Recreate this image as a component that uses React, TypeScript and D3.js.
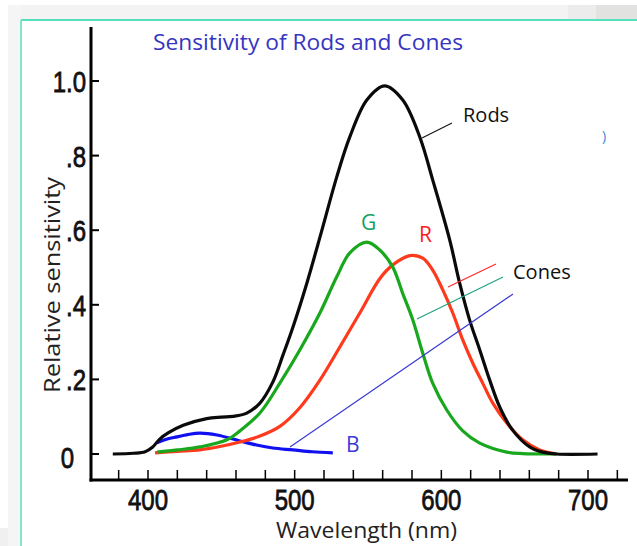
import React from "react";
import * as d3 from "d3";

const W = 637;
const H = 546;

// wavelength (nm), relative sensitivity
const rodsNm = [376, 390, 398, 403, 408, 414, 424, 440, 450, 458, 467, 476, 485, 492, 498.8, 508.3, 518.2, 528.7, 537.6, 549.2, 561.4, 573.7, 585.3, 594.1, 605.7, 612.5, 619.3, 626.2, 633, 639.8, 648.6, 660.2, 669, 678.6, 706.5];
const rodsVal = [0.0, 0.002, 0.006, 0.018, 0.04, 0.057, 0.077, 0.095, 0.099, 0.101, 0.109, 0.135, 0.192, 0.265, 0.34, 0.458, 0.595, 0.743, 0.85, 0.949, 0.987, 0.949, 0.85, 0.735, 0.574, 0.458, 0.359, 0.279, 0.198, 0.126, 0.064, 0.019, 0.005, 0.0, 0.0];

const greenNm = [406.1, 420, 435.4, 453.8, 462.7, 476.3, 489.9, 503.5, 517.2, 528.7, 537.6, 549.2, 558, 566.9, 573.7, 580.5, 587.3, 594.1, 603.7, 614.6, 626.2, 644.6, 655.5, 678.6];
const greenVal = [0.005, 0.011, 0.019, 0.038, 0.062, 0.11, 0.19, 0.279, 0.378, 0.475, 0.539, 0.568, 0.547, 0.501, 0.43, 0.36, 0.271, 0.19, 0.118, 0.062, 0.029, 0.005, 0.001, 0.0];

const redNm = [404.8, 420, 435.4, 449, 462.7, 476.3, 489.9, 503.5, 517.2, 530.8, 544.4, 558, 566.9, 578.5, 587.3, 594.1, 601, 607.8, 614.6, 621.4, 628.2, 635, 644.6, 655.5, 667, 678.6];
const redVal = [0.003, 0.007, 0.011, 0.02, 0.032, 0.048, 0.074, 0.124, 0.198, 0.287, 0.378, 0.47, 0.507, 0.532, 0.525, 0.493, 0.44, 0.378, 0.306, 0.244, 0.19, 0.137, 0.083, 0.038, 0.011, 0.0];

const blueNm = [406.1, 412, 419.8, 427, 435.4, 447, 462.7, 474, 485.1, 498.8, 512, 526];
const blueVal = [0.03, 0.039, 0.046, 0.052, 0.056, 0.051, 0.035, 0.024, 0.016, 0.011, 0.006, 0.003];

const xTickValues = [380, 400, 420, 440, 460, 480, 500, 520, 540, 560, 580, 600, 620, 640, 660, 680, 700, 720];
const xTickLabels = ["400", "500", "600", "700"];
const yTickValues = [0, 0.2, 0.4, 0.6, 0.8, 1.0];
const yTickLabels = ["0", ".2", ".4", ".6", ".8", "1.0"];

const titleText = "Sensitivity of Rods and Cones";
const xLabel = "Wavelength (nm)";
const yLabel = "Relative sensitivity";

export default function App() {
  const x = d3.scaleLinear().domain([400, 700]).range([148, 588]);
  const y = d3.scaleLinear().domain([0, 1]).range([454, 81]);

  const line = d3
    .line<[number, number]>()
    .x((d) => x(d[0]))
    .y((d) => y(d[1]))
    .curve(d3.curveCatmullRom.alpha(0.5));

  const zip = (a: number[], b: number[]) => a.map((v, i) => [v, b[i]] as [number, number]);

  const tickFont = "'Liberation Sans', Arial, sans-serif";
  const textFont = "'Open Sans', 'Noto Sans', sans-serif";
  const sx = 0.8;

  return (
    <div style={{ position: "fixed", left: 0, top: 0, width: W, height: H }}>
      <svg width={W} height={H} style={{ display: "block", background: "#fff" }}>
        {/* window chrome */}
        <rect x={8} y={5} width={W - 8} height={15} fill="#f3f3f3" />
        <rect x={568} y={5} width={28} height={15} fill="#ececec" />
        <rect x={596} y={5} width={41} height={15} fill="#e2e2e0" />
        <rect x={8} y={5} width={13} height={H - 5} fill="#f5f5f5" />
        <rect x={0} y={528} width={8} height={18} fill="#f0f0f0" />
        <line x1={21} y1={20} x2={W} y2={20} stroke="#55e0bd" strokeWidth={2} />
        <line x1={21} y1={20} x2={21} y2={H} stroke="#7fe6cc" strokeWidth={2} />

        {/* title */}
        <text x={153} y={50} fill="#3535c0" fontFamily={textFont} fontSize={21} textLength={310} lengthAdjust="spacingAndGlyphs">
          {titleText}
        </text>

        {/* axes */}
        <line x1={91} y1={27} x2={91} y2={481.5} stroke="#000" strokeWidth={3} />
        <line x1={89.5} y1={480} x2={628} y2={480} stroke="#000" strokeWidth={3} />
        {yTickValues.map((v, i) => (
          <g key={"yt" + i}>
            <line x1={91} x2={99} y1={y(v)} y2={y(v)} stroke="#000" strokeWidth={2} />
            <text
              transform={`translate(${v === 0 ? 74 : 86},${y(v) + (v === 0 ? 14 : 11)}) scale(${sx},1)`}
              textAnchor="end"
              fontFamily={tickFont}
              fontSize={30}
              fill="#111"
              stroke="#111"
              strokeWidth={0.8}
            >
              {yTickLabels[i]}
            </text>
          </g>
        ))}
        {xTickValues.map((v, i) => (
          <line key={"xt" + i} x1={x(v)} x2={x(v)} y1={470} y2={480} stroke="#000" strokeWidth={1.5} />
        ))}
        {xTickLabels.map((t, i) => (
          <text
            key={"xl" + i}
            transform={`translate(${x(+t)},510) scale(${sx},1)`}
            textAnchor="middle"
            fontFamily={tickFont}
            fontSize={30}
            fill="#111"
            stroke="#111"
            strokeWidth={0.8}
          >
            {t}
          </text>
        ))}

        {/* axis titles */}
        <text x={276} y={538} fontFamily={textFont} fontSize={21} fill="#222" textLength={181} lengthAdjust="spacingAndGlyphs">
          {xLabel}
        </text>
        <text
          transform="translate(60,393) rotate(-90)"
          fontFamily={textFont}
          fontSize={21}
          fill="#222"
          textLength={216}
          lengthAdjust="spacingAndGlyphs"
        >
          {yLabel}
        </text>

        {/* curves */}
        <path d={line(zip(blueNm, blueVal)) || ""} fill="none" stroke="#1010f0" strokeWidth={3.2} />
        <path d={line(zip(redNm, redVal)) || ""} fill="none" stroke="#ff3a1c" strokeWidth={3.2} />
        <path d={line(zip(greenNm, greenVal)) || ""} fill="none" stroke="#19a81d" strokeWidth={3.2} />
        <path d={line(zip(rodsNm, rodsVal)) || ""} fill="none" stroke="#0a0a0a" strokeWidth={3.2} />

        {/* leader lines */}
        <line x1={452} y1={123} x2={422} y2={138} stroke="#111" strokeWidth={1.2} />
        <line x1={496} y1={264} x2={448} y2={287} stroke="#ff2a2a" strokeWidth={1.2} />
        <line x1={503} y1={277} x2={417} y2={319} stroke="#1fa37f" strokeWidth={1.2} />
        <line x1={513} y1={294} x2={290} y2={447} stroke="#3a3ad6" strokeWidth={1.2} />

        {/* labels */}
        <text x={463} y={122} fontFamily={textFont} fontSize={20} fill="#111">Rods</text>
        <text x={513} y={279} fontFamily={textFont} fontSize={20} fill="#111">Cones</text>
        <text x={361} y={230} fontFamily={textFont} fontSize={21} fill="#14a060">G</text>
        <text x={419} y={242} fontFamily={textFont} fontSize={21} fill="#ff1a1a">R</text>
        <text x={346} y={452} fontFamily={textFont} fontSize={21} fill="#3a3ad6">B</text>
        <text x={602} y={141} fontFamily={textFont} fontSize={14} fill="#3a8ad6">)</text>
      </svg>
    </div>
  );
}
